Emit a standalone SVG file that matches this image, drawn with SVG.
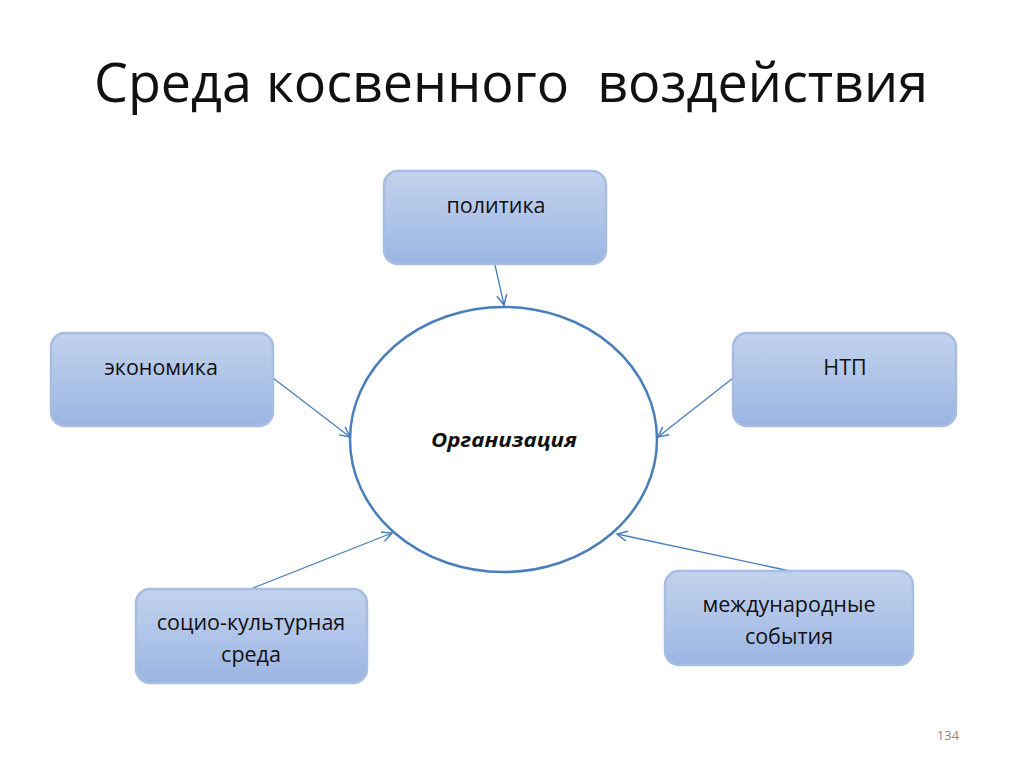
<svg xmlns="http://www.w3.org/2000/svg" width="1024" height="768" viewBox="0 0 1024 768">
<style>
.box{fill:url(#g);stroke:#a7bde2;stroke-width:2.5}
.lbl{font-family:"Open Sans","Liberation Sans",sans-serif;font-size:21.5px;fill:#111;text-anchor:middle}
.con{stroke:#4a7ebb;stroke-width:1.3;fill:none;marker-end:url(#arr)}
</style>
<defs>
<linearGradient id="g" x1="0" y1="0" x2="0" y2="1">
<stop offset="0" stop-color="#c3d3ee"/>
<stop offset="1" stop-color="#9bb5e2"/>
</linearGradient>
<marker id="arr" viewBox="0 0 12 12" refX="11" refY="6" markerWidth="12" markerHeight="12" markerUnits="userSpaceOnUse" orient="auto">
<path d="M1,1 L11,6 L1,11" fill="none" stroke="#4a7ebb" stroke-width="1.5"/>
</marker>
</defs>
<rect width="1024" height="768" fill="#fff"/>
<text x="511" y="102" font-family="'Open Sans','Liberation Sans',sans-serif" font-size="54" fill="#111" text-anchor="middle" textLength="834" lengthAdjust="spacingAndGlyphs" xml:space="preserve">Среда косвенного  воздействия</text>
<g id="connectors">
<line class="con" x1="495" y1="265" x2="504" y2="305"/>
<line class="con" x1="273" y1="378" x2="350" y2="437"/>
<line class="con" x1="733" y1="378" x2="658" y2="437"/>
<line class="con" x1="253" y1="588" x2="392" y2="533"/>
<line class="con" x1="790" y1="571" x2="617" y2="534"/>
</g>
<g id="org">
<ellipse cx="503.5" cy="439.5" rx="153.5" ry="132.5" fill="#fff" stroke="#4a7ebb" stroke-width="2.5"/>
<text x="504" y="447" font-family="'Open Sans','Liberation Sans',sans-serif" font-size="19" font-weight="bold" font-style="italic" fill="#111" text-anchor="middle" textLength="146" lengthAdjust="spacingAndGlyphs">Организация</text>
</g>
<g id="politika">
<rect class="box" x="384" y="171" width="222" height="93" rx="14"/>
<text class="lbl" x="496" y="213">политика</text>
</g>
<g id="ekonomika">
<rect class="box" x="51" y="333" width="222" height="93" rx="14"/>
<text class="lbl" x="161" y="375">экономика</text>
</g>
<g id="ntp">
<rect class="box" x="733" y="333" width="223" height="93" rx="14"/>
<text class="lbl" x="845" y="375">НТП</text>
</g>
<g id="socio">
<rect class="box" x="136" y="589" width="231" height="94" rx="14"/>
<text class="lbl" x="251" y="630">социо-культурная</text>
<text class="lbl" x="251" y="662">среда</text>
</g>
<g id="intl">
<rect class="box" x="665" y="571" width="248" height="94" rx="14"/>
<text class="lbl" x="789" y="612">международные</text>
<text class="lbl" x="789" y="644">события</text>
</g>
<text x="948" y="740" font-family="'Open Sans','Liberation Sans',sans-serif" font-size="13" fill="#8a8a8a" text-anchor="middle">134</text>
</svg>
